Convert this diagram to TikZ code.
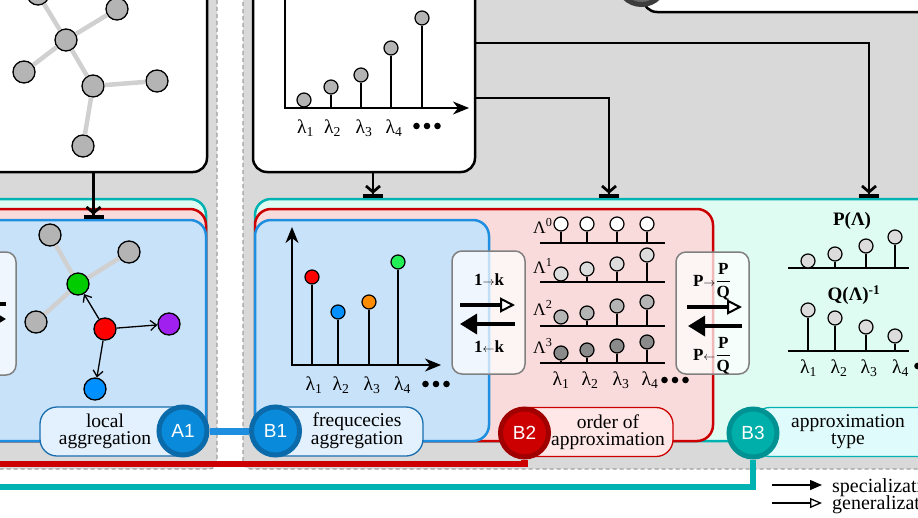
\documentclass[tikz,border=0pt]{standalone}
\usepackage{amsmath}
\usepackage{fontspec}
\setmainfont{Liberation Serif}
\newfontfamily\lsans{Liberation Sans}
\usetikzlibrary{arrows.meta}
\definecolor{bggray}{HTML}{D9D9D9}
\definecolor{dashgray}{HTML}{A0A0A0}
\definecolor{tealC}{HTML}{00B2B2}
\definecolor{tealF}{HTML}{DEFCF1}
\definecolor{redC}{HTML}{CC0000}
\definecolor{redF}{HTML}{FADBDB}
\definecolor{blueC}{HTML}{1E8FE0}
\definecolor{blueF}{HTML}{C8E2FA}
\definecolor{dotgray}{HTML}{B4B4B4}
\definecolor{dotlight}{HTML}{DCDCDC}
\definecolor{dotdark}{HTML}{8A8A8A}
\definecolor{edgegray}{HTML}{D0D0D0}
\definecolor{aCirc}{HTML}{0A8ADA}
\definecolor{aRing}{HTML}{0A6AAA}
\definecolor{aPill}{HTML}{E2F1FD}
\definecolor{aPillD}{HTML}{1A6EAE}
\definecolor{bRing}{HTML}{A00000}
\definecolor{bPill}{HTML}{FFE7E7}
\definecolor{cCirc}{HTML}{00AFA9}
\definecolor{cRing}{HTML}{009292}
\definecolor{cPill}{HTML}{E0FBFB}
\definecolor{dCirc}{HTML}{6B6B6B}
\definecolor{dRing}{HTML}{3C3C3C}
\definecolor{nGreen}{HTML}{00CC00}
\definecolor{nRed}{HTML}{FF0000}
\definecolor{nPurple}{HTML}{A020F0}
\definecolor{nBlue}{HTML}{0090FF}
\definecolor{nOrange}{HTML}{FF8C00}
\definecolor{nLime}{HTML}{22EE55}
\newcommand\mylam[1]{λ\textsubscript{#1}}
\newcommand\dotrow[2]{\foreach \k in {-1,0,1}{\fill (#1+\k*10.5,#2) circle (3.3pt);}}
\begin{document}
\begin{tikzpicture}[x=1pt,y=-1pt,
  bgpanel/.style={fill=bggray,draw=dashgray,line width=1.2pt,dash pattern=on 4pt off 3pt,rounded corners=8pt},
  bigbox/.style={draw=black,line width=2.5pt,fill=white,rounded corners=14pt,inner sep=0pt},
  gnode/.style={circle,draw=black,line width=1.3pt,fill=dotgray,minimum size=22pt,inner sep=0pt},
  gedge/.style={draw=edgegray,line width=4.5pt},
  garrow/.style={draw=black,line width=1.3pt,-{Straight Barb[length=6pt,width=10pt]}},
  sdot/.style={circle,draw=black,line width=1.2pt,minimum size=14pt,inner sep=0pt},
  stemline/.style={line width=1.4pt},
  baseline/.style={line width=1.6pt},
  tarrow/.style={line width=2.7pt,-{Straight Barb[length=6pt,width=14pt,sep=0pt]Bar[width=20pt,line width=4pt]}},
  lamlab/.style={font=\fontsize{19.5}{19.5}\selectfont,anchor=base,inner sep=0pt},
  panel/.style={line width=2.5pt,rounded corners=16pt,inner sep=0pt},
  abox/.style={draw=gray,line width=1.5pt,fill=white,fill opacity=0.72,rounded corners=10pt,inner sep=0pt},
  hollowarr/.style={line width=3.5pt,-{Triangle[length=15pt,width=15pt,fill=white,line width=2pt]}},
  filledarr/.style={line width=3.5pt,-{Triangle[length=17pt,width=20pt]}},
  boldlab/.style={font=\fontsize{17}{17}\selectfont\bfseries,inner sep=0pt},
  pill/.style={rounded corners=17pt,line width=1.3pt,minimum height=49pt,inner sep=0pt},
  pilltext/.style={align=center,font=\fontsize{19.5}{17}\selectfont,inner sep=0pt},
  tag/.style={circle,line width=5pt,minimum size=48pt,inner sep=0pt,text=white,font=\lsans\fontsize{19}{19}\selectfont},
  legtext/.style={anchor=base west,font=\fontsize{20}{20}\selectfont,inner sep=0pt}
]
\useasboundingbox (0,0) rectangle (918,517);
\clip (0,0) rectangle (918,517);
\fill[white] (0,0) rectangle (918,517);
% panel backgrounds
\draw[bgpanel] (-20,-20) rectangle (217,469);
\draw[bgpanel] (243,-20) rectangle (940,469);

% ---------- top-left graph box
\node[bigbox,minimum width=227pt,minimum height=212pt] (tlbox) at (93.5,66) {};
\node[gnode] (n1) at (38,-6) {};
\node[gnode] (n2) at (117,9) {};
\node[gnode] (n3) at (66,40) {};
\node[gnode] (n4) at (24,72) {};
\node[gnode] (n5) at (93,86) {};
\node[gnode] (n6) at (157,81) {};
\node[gnode] (n7) at (83,146) {};
\draw[gedge] (n1) -- (n3);
\draw[gedge] (n2) -- (n3);
\draw[gedge] (n4) -- (n3);
\draw[gedge] (n3) -- (n5);
\draw[gedge] (n5) -- (n6);
\draw[gedge] (n5) -- (n7);

% ---------- top-middle spectrum box
\node[bigbox,minimum width=222pt,minimum height=212pt] (mbox) at (364,66) {};
\coordinate (mO) at (285,108);
\coordinate (mY) at (285,-30);
\coordinate (mX) at (469,108);
\draw[line width=1.8pt,-{Stealth[length=16pt,width=13pt,inset=5pt]}] (mY) -- (mO) -- (mX);
\foreach \i/\x/\y in {1/304/100,2/331/87,3/361/75,4/391/48,5/422/18}{
  \node[sdot,fill=dotgray] (m\i) at (\x,\y) {};
  \coordinate (mb\i) at (\x,108);
  \draw[stemline] (m\i) -- (mb\i);
}
\foreach \i/\x in {1/305.5,2/332.5,3/364,4/394}{
  \node[lamlab] (ml\i) at (\x,133) {\mylam{\i}};
}
\dotrow{427}{126}

% ---------- top-right partial box
\node[bigbox,minimum width=307pt,minimum height=72pt] (trbox) at (796.5,-24) {};
\node[tag,fill=dCirc,draw=dRing] (trc) at (641.5,-19.5) {};

% ---------- left stacked panels
\node[panel,draw=tealC,fill=tealF,minimum width=226pt,minimum height=242pt] (lteal) at (93,320) {};
\node[panel,draw=redC,fill=redF,minimum width=226pt,minimum height=232pt] (lred) at (93,325) {};
\node[panel,draw=blueC,fill=blueF,minimum width=226pt,minimum height=221pt] (lblue) at (93,330.5) {};

% ---------- right stacked panels
\node[panel,draw=tealC,fill=tealF,minimum width=695pt,minimum height=242pt] (rteal) at (602.5,320) {};
\node[panel,draw=redC,fill=redF,minimum width=458pt,minimum height=232pt] (rred) at (484,325) {};
\node[panel,draw=blueC,fill=blueF,minimum width=234pt,minimum height=221pt] (rblue) at (372,330.5) {};

% ---------- connectors from top boxes
\draw[tarrow] (tlbox.south) -- (tlbox.south |- lblue.north);
\draw[tarrow] (373,0 |- mbox.south) -- (373,0 |- rteal.north);
\draw[tarrow] (mbox.east |- 0,98) -| (609,0 |- rteal.north);
\draw[tarrow] (mbox.east |- 0,43) -| (869,0 |- rteal.north);

% ---------- left panel contents
\node[abox,minimum width=92pt,minimum height=123pt] (lbox) at (-30,313.5) {};
\coordinate (lbxa) at (-50,304); \coordinate (lbxb) at (6,304);
\draw[line width=3.5pt] (lbxa) -- (lbxb);
\coordinate (lbya) at (-50,319); \coordinate (lbyb) at (6,319);
\draw[filledarr] (lbya) -- (lbyb);

\node[gnode] (g1) at (50,235) {};
\node[gnode] (g2) at (129,252) {};
\node[gnode] (g3) at (36,322) {};
\node[gnode,fill=nGreen] (gG) at (78,284) {};
\node[gnode,fill=nRed] (gR) at (105,329) {};
\node[gnode,fill=nPurple] (gP) at (169,324) {};
\node[gnode,fill=nBlue] (gB) at (95,389) {};
\draw[gedge] (gG) -- (g1);
\draw[gedge] (gG) -- (g2);
\draw[gedge] (gG) -- (g3);
\draw[garrow] (gR) -- (gG);
\draw[garrow] (gR) -- (gP);
\draw[garrow] (gR) -- (gB);

% ---------- blue panel contents (right)
\coordinate (bO) at (292,365);
\coordinate (bY) at (292,227);
\coordinate (bX) at (441,365);
\draw[line width=1.8pt,{Stealth[length=16pt,width=13pt,inset=5pt]}-{Stealth[length=16pt,width=13pt,inset=5pt]}] (bY) -- (bO) -- (bX);
\foreach \i/\x/\y/\c in {1/312/277/nRed,2/338/312/nBlue,3/369/302/nOrange,4/398/262/nLime}{
  \node[sdot,fill=\c] (b\i) at (\x,\y) {};
  \coordinate (bb\i) at (\x,365);
  \draw[stemline] (b\i) -- (bb\i);
}
\foreach \i/\x in {1/314,2/341,3/372,4/402.5}{
  \node[lamlab] (bl\i) at (\x,390) {\mylam{\i}};
}
\dotrow{436}{384}

% ---------- red panel contents
\foreach \r/\ya/\yb/\yc/\yd/\base/\col in {0/224/224/224/224/243/white,1/274/269/264/255/282/dotlight,2/317/313/306/302/326/dotgray,3/353/350/346/342/363/dotdark}{
  \coordinate (rla\r) at (540,\base);
  \coordinate (rlb\r) at (665,\base);
  \draw[baseline] (rla\r) -- (rlb\r);
  \foreach \j/\x/\y in {1/561/\ya,2/587/\yb,3/617/\yc,4/647/\yd}{
    \node[sdot,fill=\col] (r\r\j) at (\x,\y) {};
    \coordinate (rs\r\j) at (\x,\base);
    \draw[stemline] (r\r\j) -- (rs\r\j);
  }
}
\foreach \r/\yb in {0/233,1/273,2/315,3/353}{
  \node[anchor=base west,font=\fontsize{17.5}{17.5}\selectfont,inner sep=0pt] (Lam\r) at (533,\yb) {Λ\textsuperscript{\r}};
}
\foreach \i/\x in {1/561,2/590,3/621,4/650}{
  \node[lamlab] (rl\i) at (\x,385) {\mylam{\i}};
}
\dotrow{675}{380}

% ---------- teal panel contents
\node[font=\fontsize{19}{19}\selectfont\bfseries,inner sep=0pt] (plab) at (852,221) {P(Λ)};
\coordinate (pla) at (788,268); \coordinate (plb) at (909,268);
\draw[baseline] (pla) -- (plb);
\foreach \i/\x/\y in {1/808/261,2/835/254,3/866/246,4/895/237}{
  \node[sdot,fill=dotlight] (p\i) at (\x,\y) {};
  \coordinate (pb\i) at (\x,268);
  \draw[stemline] (p\i) -- (pb\i);
}
\node[font=\fontsize{19}{19}\selectfont\bfseries,inner sep=0pt] (qlab) at (854,295) {Q(Λ)\textsuperscript{-1}};
\coordinate (qla) at (788,351); \coordinate (qlb) at (909,351);
\draw[baseline] (qla) -- (qlb);
\foreach \i/\x/\y in {1/808/310,2/835/318,3/866/327,4/895/336}{
  \node[sdot,fill=dotlight] (q\i) at (\x,\y) {};
  \coordinate (qb\i) at (\x,351);
  \draw[stemline] (q\i) -- (qb\i);
}
\foreach \i/\x in {1/808.5,2/839,3/869,4/900.5}{
  \node[lamlab] (tl\i) at (\x,373) {\mylam{\i}};
}
\dotrow{928}{366}

% ---------- arrow boxes
\node[abox,minimum width=73pt,minimum height=123pt] (ab1) at (488.5,312.5) {};
\node[boldlab] (ab1t) at (489,280) {$\text{1}{\scriptstyle\rightarrow}\text{k}$};
\coordinate (ab1a) at (460,305); \coordinate (ab1b) at (515,305);
\draw[hollowarr] (ab1a) -- (ab1b);
\coordinate (ab1c) at (515,324); \coordinate (ab1d) at (460,324);
\draw[filledarr] (ab1c) -- (ab1d);
\node[boldlab] (ab1u) at (489,347) {$\text{1}{\scriptstyle\leftarrow}\text{k}$};

\node[abox,minimum width=73pt,minimum height=122pt] (ab2) at (712.5,313) {};
\node[boldlab] (ab2t) at (712,282) {$\text{P}{\scriptstyle\rightarrow}\dfrac{\text{P}}{\text{Q}}$};
\coordinate (ab2a) at (687,307); \coordinate (ab2b) at (742,307);
\draw[hollowarr] (ab2a) -- (ab2b);
\coordinate (ab2c) at (742,326); \coordinate (ab2d) at (688,326);
\draw[filledarr] (ab2c) -- (ab2d);
\node[boldlab] (ab2u) at (712,356) {$\text{P}{\scriptstyle\leftarrow}\dfrac{\text{P}}{\text{Q}}$};

% ---------- labels
\node[pill,fill=aPill,draw=aPillD,minimum width=158pt] (pA1) at (119,431.5) {};
\node[pill,fill=aPill,draw=aPillD,minimum width=163pt] (pB1) at (341.5,431.5) {};
\node[pill,fill=bPill,draw=redC,minimum width=160pt] (pB2) at (593,432) {};
\node[pill,fill=cPill,draw=tealC,minimum width=200pt] (pB3) at (853,432) {};
\node[pilltext] (tA1) at (105,431) {local\\aggregation};
\node[pilltext] (tB1) at (357,431) {frequcecies\\aggregation};
\node[pilltext] (tB2) at (608,432) {order of\\approximation};
\node[pilltext] (tB3) at (848,432) {approximation\\type};
\node[tag,fill=aCirc,draw=aRing] (A1) at (183,431) {A1};
\node[tag,fill=aCirc,draw=aRing] (B1) at (275.5,431) {B1};
\node[tag,fill=redC,draw=bRing] (B2) at (524.5,433) {B2};
\node[tag,fill=cCirc,draw=cRing] (B3) at (753,433) {B3};
\coordinate (redEnd) at (-10,464);
\coordinate (tealEnd) at (-10,487);
\draw[draw=blueC,line width=7pt] (A1) -- (B1);
\draw[draw=redC,line width=6.5pt] (B2) |- (redEnd);
\draw[draw=tealC,line width=6pt] (B3) |- (tealEnd);

% ---------- legend
\coordinate (lg1a) at (772,485); \coordinate (lg1b) at (822,485);
\draw[line width=1.3pt,-{Triangle[length=12pt,width=10pt]}] (lg1a) -- (lg1b);
\node[legtext] (lgt1) at (832,492) {specialization};
\coordinate (lg2a) at (772,503); \coordinate (lg2b) at (822,503);
\draw[line width=1.3pt,-{Triangle[length=12pt,width=10pt,fill=white]}] (lg2a) -- (lg2b);
\node[legtext] (lgt2) at (832,509) {generalization};
\end{tikzpicture}
\end{document}
